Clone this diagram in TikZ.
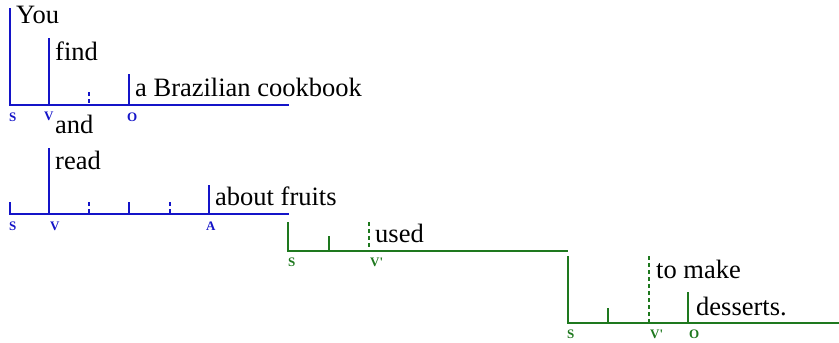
\documentclass[tikz,border=0pt]{standalone}
\usepackage{fontspec}
\setmainfont{Liberation Serif}
\usetikzlibrary{positioning}
\definecolor{diagblue}{RGB}{20,20,200}
\definecolor{diaggreen}{RGB}{30,120,30}
\tikzstyle{word} = [anchor=base west,inner sep=0pt,font=\fontsize{26.5}{26.5}\selectfont]
\tikzstyle{role} = [anchor=base west,inner sep=0pt,font=\fontsize{13}{13}\selectfont\bfseries]
\tikzstyle{stem} = [line width=1.6pt]
\tikzstyle{gap} = [line width=1.6pt,dash pattern=on 4pt off 3pt]

\begin{document}
\begin{tikzpicture}[x=1pt,y=-1pt]
    \useasboundingbox (0,0) rectangle (839,343);

    % first clause
    \begin{scope}[diagblue]
    \path
    coordinate (s1) at (10,105) coordinate (s1t) at (10,8)
    coordinate (v1) at (49,105) coordinate (v1t) at (49,38)
    coordinate (g1) at (89,105) coordinate (g1t) at (89,92)
    coordinate (o1) at (129,105) coordinate (o1t) at (129,74)
    coordinate (e1) at (289,105);
    \draw [stem] (s1t) -- (s1) -- (e1);
    \draw [stem] (v1t) -- (v1);
    \draw [gap] (g1t) -- (g1);
    \draw [stem] (o1t) -- (o1);
    \node [role] (s1l) at (9,121) {S};
    \node [role] (v1l) at (44,120) {V};
    \node [role] (o1l) at (127,121) {O};
    \end{scope}
    \node [word] (you) at (16,23) {You};
    \node [word] (find) at (55,60) {find};
    \node [word] (book) at (135,96) {a Brazilian cookbook};

    % second clause
    \begin{scope}[diagblue]
    \path
    coordinate (s2) at (10,214) coordinate (s2t) at (10,202)
    coordinate (v2) at (49,214) coordinate (v2t) at (49,148)
    coordinate (a2) at (209,214) coordinate (a2t) at (209,185)
    coordinate (e2) at (289,214);
    \draw [stem] (s2t) -- (s2) -- (e2);
    \draw [stem] (v2t) -- (v2);
    \draw [stem] (a2t) -- (a2);
    \foreach \x/\kind in {89/gap,129/stem,170/gap}
      \draw [\kind] (\x,202) -- (\x,214);
    \node [role] (s2l) at (9,230) {S};
    \node [role] (v2l) at (50,230) {V};
    \node [role] (a2l) at (206,230) {A};
    \end{scope}
    \node [word] (and) at (55,133) {and};
    \node [word] (read) at (55,169) {read};
    \node [word] (fruits) at (215,205) {about fruits};

    % participle
    \begin{scope}[diaggreen]
    \path
    coordinate (s3) at (288,251) coordinate (s3t) at (288,222)
    coordinate (t3) at (329,251) coordinate (t3t) at (329,236)
    coordinate (v3) at (369,251) coordinate (v3t) at (369,222)
    coordinate (e3) at (568,251);
    \draw [stem] (s3t) -- (s3) -- (e3);
    \draw [stem] (t3t) -- (t3);
    \draw [gap] (v3t) -- (v3);
    \node [role] (s3l) at (288,266) {S};
    \node [role] (v3l) at (370,266) {V\textquotesingle};
    \end{scope}
    \node [word] (used) at (375,242) {used};

    % infinitive
    \begin{scope}[diaggreen]
    \path
    coordinate (s4) at (568,323) coordinate (s4t) at (568,256)
    coordinate (t4) at (608,323) coordinate (t4t) at (608,308)
    coordinate (v4) at (649,323) coordinate (v4t) at (649,256)
    coordinate (o4) at (688,323) coordinate (o4t) at (688,292)
    coordinate (e4) at (839,323);
    \draw [stem] (s4t) -- (s4) -- (e4);
    \draw [stem] (t4t) -- (t4);
    \draw [gap] (v4t) -- (v4);
    \draw [stem] (o4t) -- (o4);
    \node [role] (s4l) at (567,338) {S};
    \node [role] (v4l) at (650,338) {V\textquotesingle};
    \node [role] (o4l) at (689,338) {O};
    \end{scope}
    \node [word] (make) at (656,278) {to make};
    \node [word] (desserts) at (696,315) {desserts.};
\end{tikzpicture}
\end{document}
